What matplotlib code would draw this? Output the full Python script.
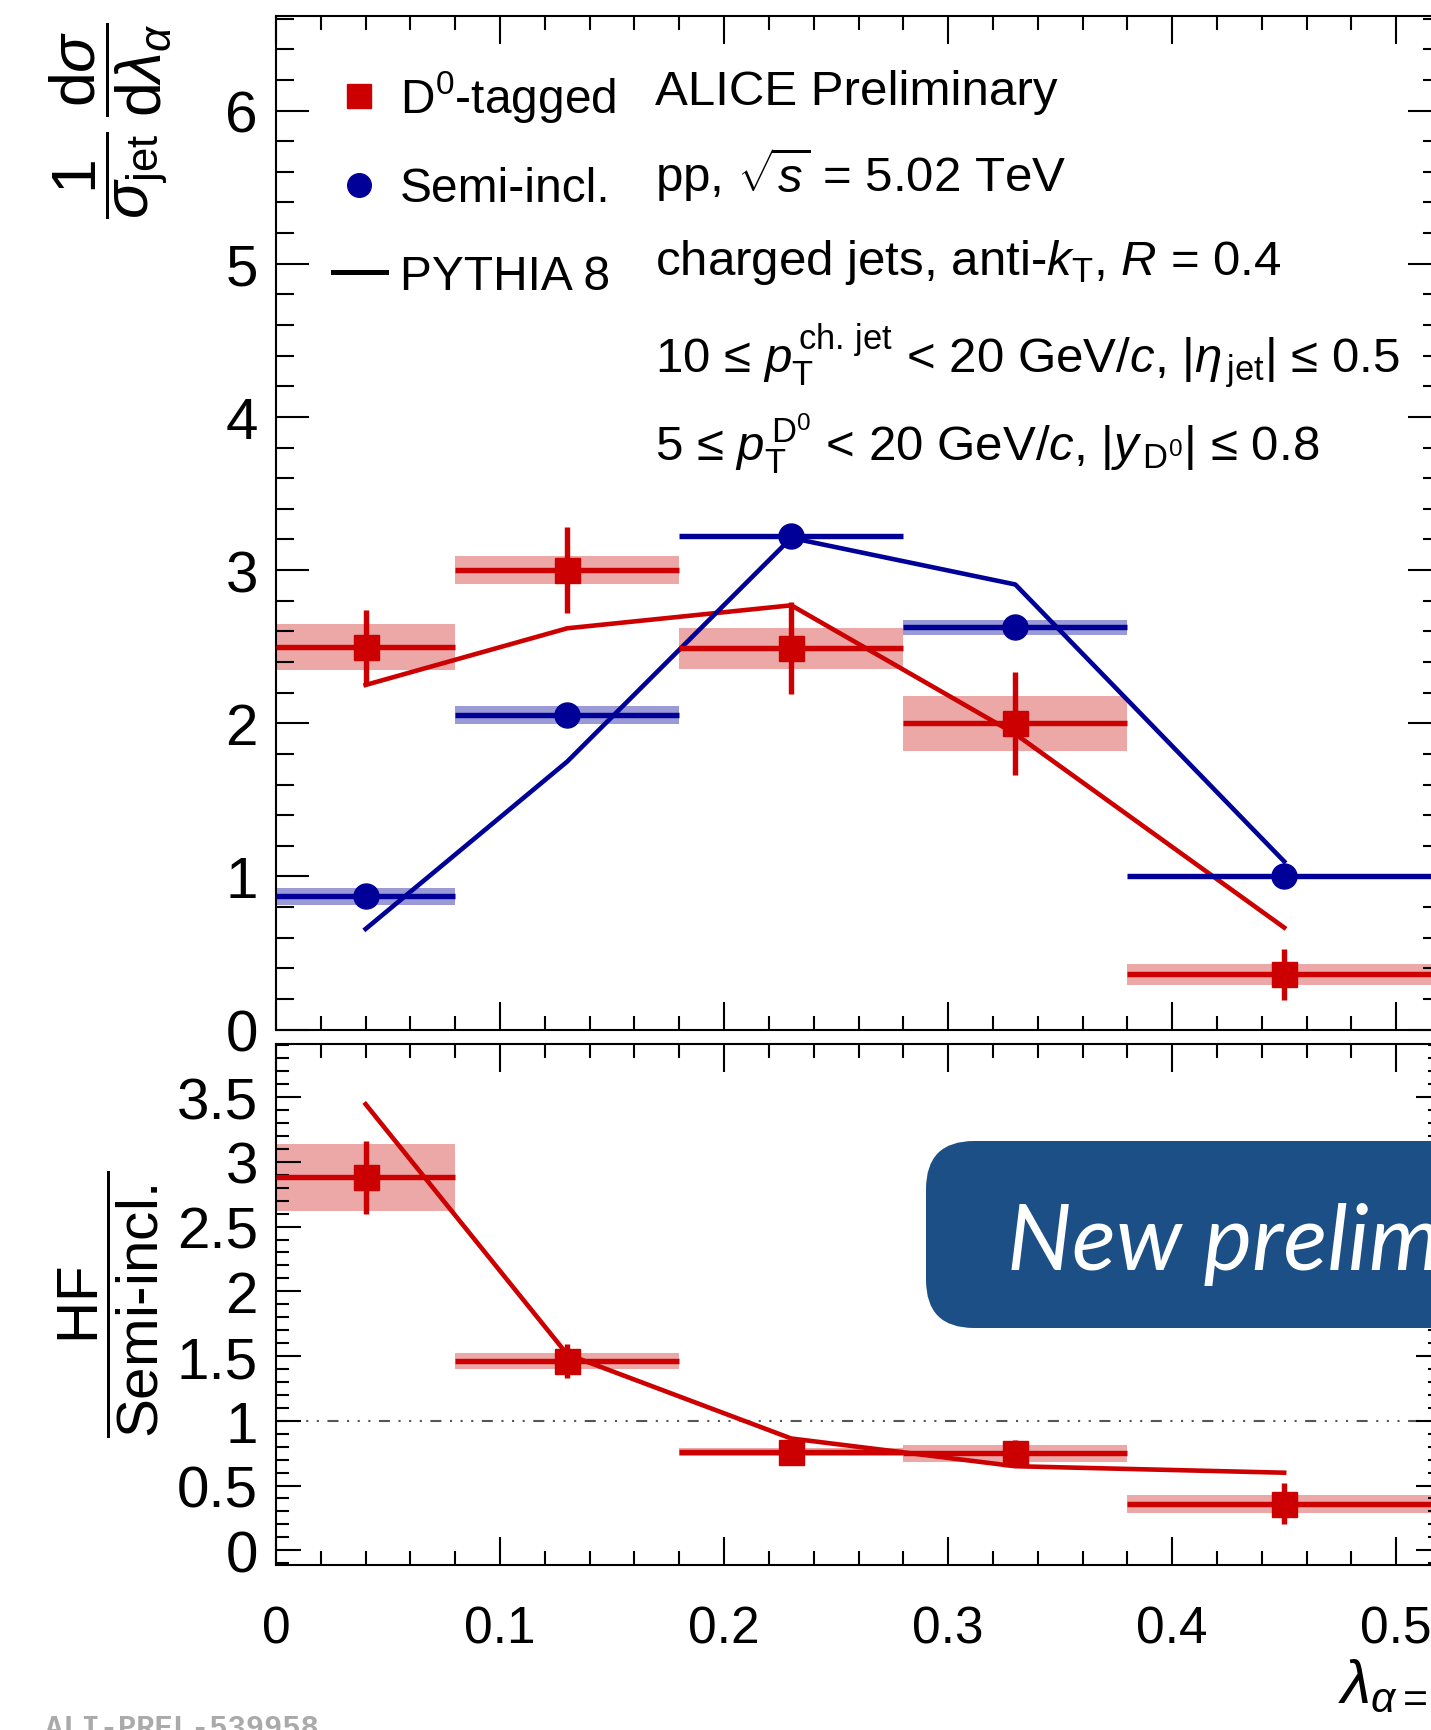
import numpy as np
import matplotlib
matplotlib.use("Agg")
import matplotlib.pyplot as plt
from matplotlib.ticker import MultipleLocator
from matplotlib.lines import Line2D
from matplotlib.patches import FancyBboxPatch
from matplotlib.transforms import IdentityTransform

plt.rcParams['font.family'] = ['Liberation Sans', 'DejaVu Sans']
plt.rcParams['mathtext.fontset'] = 'custom'
plt.rcParams['mathtext.rm'] = 'Liberation Sans'
plt.rcParams['mathtext.it'] = 'Liberation Sans:italic'
plt.rcParams['mathtext.bf'] = 'Liberation Sans:bold'
plt.rcParams['mathtext.sf'] = 'Liberation Sans'

# --- data ---
bin_edges = np.array([0.0, 0.08, 0.18, 0.28, 0.38, 0.52])

d0_val = [2.50, 3.00, 2.49, 2.00, 0.36]
d0_stat = [0.24, 0.28, 0.30, 0.335, 0.165]
d0_sys = [0.15, 0.09, 0.135, 0.18, 0.07]

incl_val = [0.87, 2.055, 3.225, 2.626, 1.00]
incl_stat = [0.02, 0.02, 0.02, 0.02, 0.02]
incl_sys = [0.055, 0.06, 0.0, 0.05, 0.0]

pythia_d0 = [2.25, 2.62, 2.77, 1.93, 0.666]
pythia_incl = [0.657, 1.75, 3.21, 2.906, 1.098]

ratio_val = [2.88, 1.46, 0.76, 0.75, 0.36]
ratio_stat = [0.28, 0.13, 0.06, 0.10, 0.16]
ratio_sys = [0.26, 0.06, 0.03, 0.065, 0.07]
ratio_pythia = [3.445, 1.513, 0.863, 0.649, 0.599]

centers = (bin_edges[:-1] + bin_edges[1:]) / 2
half_w = np.diff(bin_edges) / 2

RED = '#cc0000'
RED_SYS = '#eca7a7'
BLUE = '#000099'
BLUE_SYS = '#9a9ad6'

W, H = 1431, 1731
fig = plt.figure(figsize=(W / 100, H / 100), dpi=100)


def px_axes(left, top, right, bottom):
    return [left / W, 1 - bottom / H, (right - left) / W, (bottom - top) / H]


ax1 = fig.add_axes(px_axes(276, 16.6, 1441, 1030.6))
ax2 = fig.add_axes(px_axes(276, 1045, 1441, 1565.5))


def draw_points(ax, val, stat, sys, color, sys_color, marker):
    val = np.array(val)
    sys = np.array(sys)
    ax.bar(centers, 2 * sys, width=2 * half_w, bottom=val - sys,
           color=sys_color, linewidth=0, zorder=1)
    ax.errorbar(centers, val, xerr=half_w, yerr=stat, fmt=marker, color=color,
                ms=18, elinewidth=3.9, capsize=0, zorder=4)


# --- upper panel ---
draw_points(ax1, d0_val, d0_stat, d0_sys, RED, RED_SYS, 's')
draw_points(ax1, incl_val, incl_stat, incl_sys, BLUE, BLUE_SYS, 'o')
ax1.plot(centers, pythia_d0, color=RED, lw=3.3, zorder=3)
ax1.plot(centers, pythia_incl, color=BLUE, lw=3.3, zorder=3)

ax1.set_xlim(0, 0.52)
ax1.set_ylim(0, 6.62)
ax1.xaxis.set_major_locator(MultipleLocator(0.1))
ax1.xaxis.set_minor_locator(MultipleLocator(0.02))
ax1.yaxis.set_major_locator(MultipleLocator(1))
ax1.yaxis.set_minor_locator(MultipleLocator(0.2))
ax1.tick_params(which='both', direction='in', top=True, right=True, width=1.5,
                labelbottom=False)
ax1.tick_params(axis='y', which='major', length=24, labelsize=42, pad=13)
ax1.tick_params(axis='y', which='minor', length=13)
ax1.tick_params(axis='x', which='major', length=20)
ax1.tick_params(axis='x', which='minor', length=10)

handles = [Line2D([], [], marker='s', color=RED, ls='none', ms=17),
           Line2D([], [], marker='o', color=BLUE, ls='none', ms=17),
           Line2D([], [], color='black', lw=3.6)]
labels = ['D$^{0}$-tagged', 'Semi-incl.', 'PYTHIA 8']
ax1.legend(handles, labels, loc='upper left', bbox_to_anchor=(0.049, 0.948),
           frameon=False, fontsize=34.5, handlelength=1.1, handletextpad=0.3,
           labelspacing=0.88, borderpad=0, borderaxespad=0)

info = ['ALICE Preliminary',
        r'pp, $\sqrt{s}$ = 5.02 TeV',
        r'charged jets, anti-$k_{\mathrm{T}}$, $R$ = 0.4',
        r'10 ≤ $p_{\mathrm{T}}^{\,\mathrm{ch.\,jet}}$ < 20 GeV/$c$, |$\eta_{\,\mathrm{jet}}$| ≤ 0.5',
        r'5 ≤ $p_{\mathrm{T}}^{\,\mathrm{D^{0}}}$ < 20 GeV/$c$, |$y_{\,\mathrm{D^{0}}}$| ≤ 0.8']
info_y = [0.9128, 0.8270, 0.7452, 0.6485, 0.5607]
for s, yy in zip(info, info_y):
    ax1.text(0.3253, yy, s, transform=ax1.transAxes, fontsize=35.5, va='baseline')

# --- ratio panel ---
ax2.axhline(1, color='#555555', lw=1.5, dashes=[5.3, 4.1, 1, 4.1, 1, 4.1, 1, 4.1], zorder=0)
draw_points(ax2, ratio_val, ratio_stat, ratio_sys, RED, RED_SYS, 's')
ax2.plot(centers, ratio_pythia, color=RED, lw=3.3, zorder=3)

ax2.set_xlim(0, 0.52)
ax2.set_ylim(-0.11, 3.91)
ax2.xaxis.set_minor_locator(MultipleLocator(0.02))
ax2.yaxis.set_minor_locator(MultipleLocator(0.1))
ax2.set_yticks([0, 0.5, 1, 1.5, 2, 2.5, 3, 3.5])
ax2.set_yticklabels(['0', '0.5', '1', '1.5', '2', '2.5', '3', '3.5'])
ax2.set_xticks([0, 0.1, 0.2, 0.3, 0.4, 0.5])
ax2.set_xticklabels(['0', '0.1', '0.2', '0.3', '0.4', '0.5'])
ax2.tick_params(which='both', direction='in', top=True, right=True, width=1.5)
ax2.tick_params(axis='y', which='major', length=18, labelsize=42, pad=13)
ax2.tick_params(axis='y', which='minor', length=9.5)
ax2.tick_params(axis='x', which='major', length=20, labelsize=37, pad=29)
ax2.tick_params(axis='x', which='minor', length=10)

for ax in (ax1, ax2):
    for sp in ax.spines.values():
        sp.set_linewidth(1.5)

# --- axis titles ---
fig.text(110 / W, 1 - 121 / H,
         r'$\dfrac{1}{\sigma_{\mathrm{jet}}}\,\dfrac{\mathrm{d}\sigma}{\mathrm{d}\lambda_{\alpha}}$',
         rotation=90, fontsize=45, ha='center', va='center')
fig.text(109 / W, 1 - 1304 / H,
         r'$\dfrac{\mathrm{HF}}{\mathrm{Semi}\text{-}\mathrm{incl.}}$',
         rotation=90, fontsize=42, ha='center', va='center')
fig.text(1338 / W, 1 - 1702 / H, r'$\lambda_{\alpha=1}$', fontsize=44, va='baseline')

fig.text(45 / W, 1 - 1714 / H, 'ALI-PREL-539958', family='Liberation Mono',
         weight='bold', color='#aaaaaa', fontsize=22, va='top')

# --- "New preliminary" banner ---
banner = FancyBboxPatch((926, H - 1329), 700, 187,
                        boxstyle='round,pad=0,rounding_size=48',
                        transform=IdentityTransform(), facecolor='#1b4f85',
                        edgecolor='none', zorder=5)
fig.add_artist(banner)
fig.text(1007 / W, 1 - 1270 / H, 'New preliminary', family='Lato', style='italic',
         fontsize=66, color='white', va='baseline', zorder=6)

fig.savefig('out.png', dpi=100)
